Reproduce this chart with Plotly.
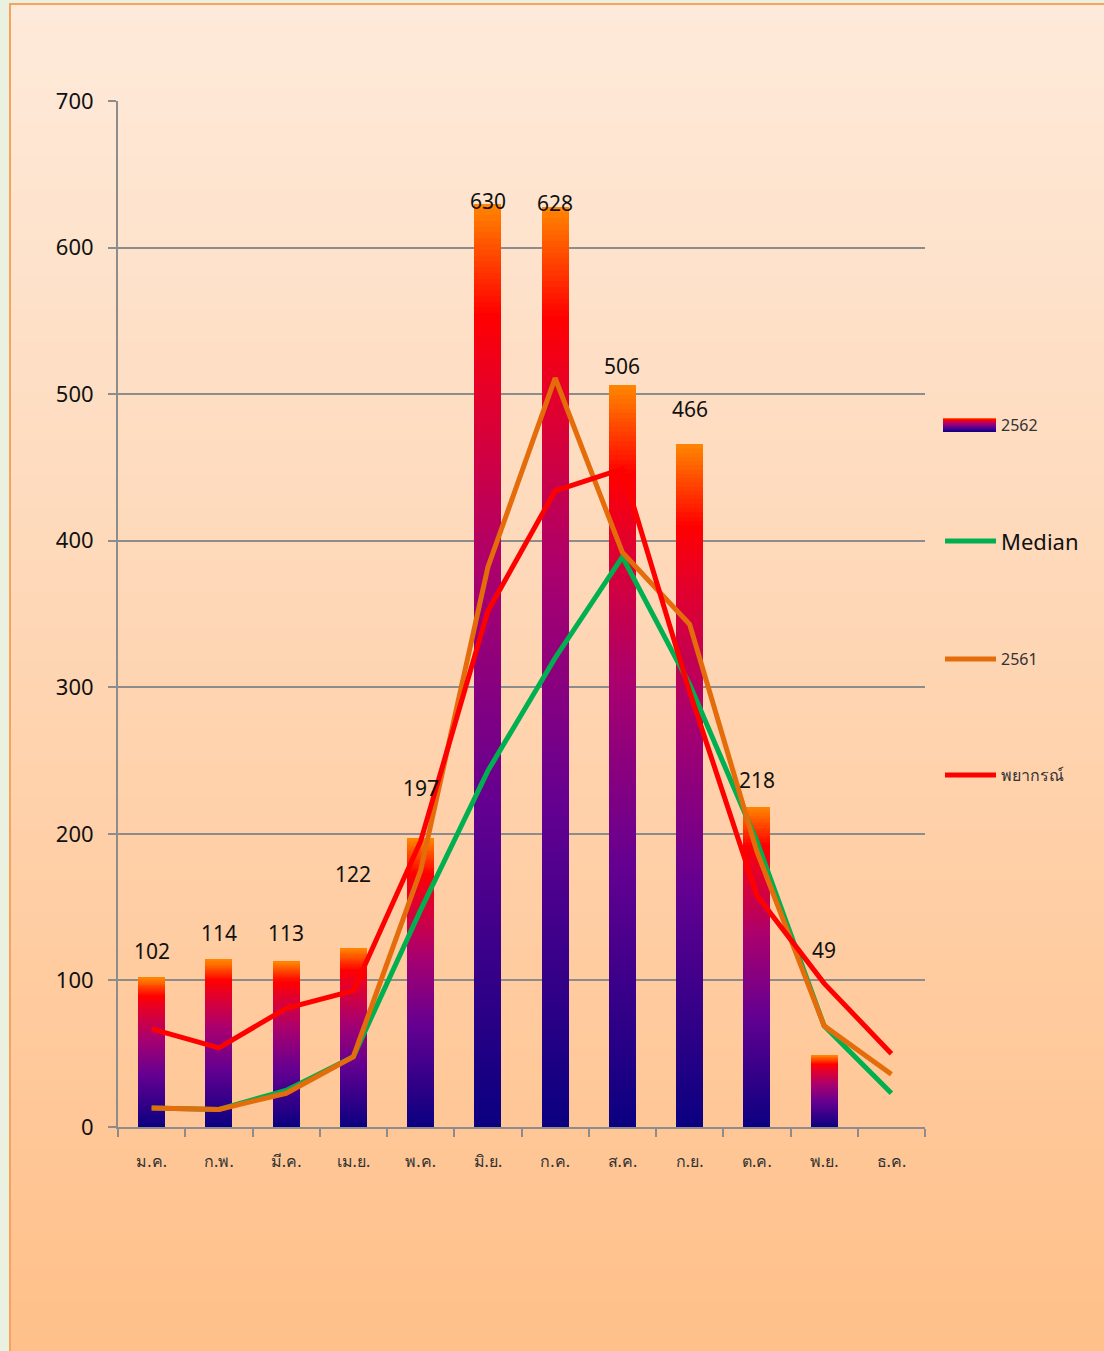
import plotly.graph_objects as go

# monthly counts
months = ["ม.ค.", "ก.พ.", "มี.ค.", "เม.ย.", "พ.ค.", "มิ.ย.", "ก.ค.", "ส.ค.", "ก.ย.", "ต.ค.", "พ.ย.", "ธ.ค."]
cases_2562 = [102, 114, 113, 122, 197, 630, 628, 506, 466, 218, 49, None]
median = [13, 12, 25, 48, 148, 243, 320, 389, 302, 195, 69, 23]
cases_2561 = [13, 12, 23, 48, 175, 382, 511, 392, 343, 188, 69, 36]
forecast = [67, 54, 81, 93, 195, 352, 434, 449, 297, 158, 98, 50]

# value labels were nudged by hand in the original (px above bar top)
label_lift = [27, 27, 28, 74, 50, 3, 4, 19, 35, 27, 105]

W, H = 1104, 1351
L, R, T, B = 118, 925, 101, 1127   # plot area in px


def px_x(p):
    return (p - L) / (R - L)


def px_y(p):
    return (B - p) / (B - T)


bar_stops = [(0.0, (10, 0, 128)), (0.35, (100, 0, 145)), (0.6, (170, 0, 110)),
             (0.8, (230, 0, 40)), (0.88, (255, 0, 0)), (1.0, (255, 135, 0))]


def grad(f, stops=bar_stops):
    for (f0, c0), (f1, c1) in zip(stops, stops[1:]):
        if f <= f1:
            t = (f - f0) / (f1 - f0)
            return "rgb(%d,%d,%d)" % tuple(round(a + (b - a) * t) for a, b in zip(c0, c1))
    return "rgb(%d,%d,%d)" % stops[-1][1]


fig = go.Figure()

# gradient bars: stack thin slices of each value
N = 160
for i in range(N):
    fig.add_trace(go.Bar(
        x=months, y=[v / N if v else None for v in cases_2562],
        marker=dict(color=grad((i + 0.5) / N), line=dict(width=0)),
        showlegend=False, hoverinfo="skip"))

series = [("Median", median, "#00b050", 541, 22, "#111"),
          ("2561", cases_2561, "#e46c0a", 659, 16, "#333"),
          ("พยากรณ์", forecast, "#ff0000", 775, 16, "#333")]
for name, vals, col, *_ in series:
    fig.add_trace(go.Scatter(x=months, y=vals, mode="lines", name=name,
                             line=dict(color=col, width=5), showlegend=False))

for m, v, lift in zip(months, cases_2562, label_lift):
    fig.add_annotation(x=m, y=v, yshift=lift, text=str(v), showarrow=False,
                       yanchor="middle", font=dict(size=21, color="#111"))

# background: vertical peach gradient + orange frame line
shapes = []
top_c, bot_c = (254, 234, 218), (255, 192, 138)
nb = 80
y0p, y1p = 4, H
for k in range(nb):
    a = y0p + (y1p - y0p) * k / nb
    b = y0p + (y1p - y0p) * (k + 1) / nb + 1
    t = k / (nb - 1)
    col = "rgb(%d,%d,%d)" % tuple(round(c0 + (c1 - c0) * t) for c0, c1 in zip(top_c, bot_c))
    shapes.append(dict(type="rect", xref="paper", yref="paper", layer="below",
                       x0=px_x(10), x1=px_x(W), y0=px_y(b), y1=px_y(a),
                       fillcolor=col, line=dict(width=0)))
shapes.append(dict(type="path", xref="paper", yref="paper", layer="below",
                   path="M %f,%f L %f,%f L %f,%f" % (px_x(10), px_y(H), px_x(10), px_y(4),
                                                     px_x(W), px_y(4)),
                   line=dict(color="#f7a35c", width=2)))

# legend: gradient swatch for the bars, line samples for the series
sw_top, sw_bot = 418, 432
for k in range(sw_bot - sw_top):
    shapes.append(dict(type="rect", xref="paper", yref="paper",
                       x0=px_x(943), x1=px_x(996), y0=px_y(sw_top + k + 1), y1=px_y(sw_top + k),
                       fillcolor=grad(1 - (k + 0.5) / (sw_bot - sw_top)), line=dict(width=0)))
fig.add_annotation(xref="paper", yref="paper", x=px_x(999), y=px_y(425), text="2562",
                   showarrow=False, xanchor="left", yanchor="middle",
                   font=dict(size=16, color="#333"))
for name, vals, col, ypx, fs, fc in series:
    shapes.append(dict(type="line", xref="paper", yref="paper",
                       x0=px_x(945), x1=px_x(996), y0=px_y(ypx), y1=px_y(ypx),
                       line=dict(color=col, width=5)))
    fig.add_annotation(xref="paper", yref="paper", x=px_x(999), y=px_y(ypx), text=name,
                       showarrow=False, xanchor="left", yanchor="middle",
                       font=dict(size=fs, color=fc))

fig.update_layout(
    width=W, height=H,
    margin=dict(l=L, r=W - R, t=T, b=H - B),
    paper_bgcolor="#eaf1e0", plot_bgcolor="rgba(0,0,0,0)",
    font=dict(family="Noto Sans", color="#111"),
    barmode="stack", bargap=0.6, showlegend=False,
    shapes=shapes,
    xaxis=dict(showline=True, linecolor="#8c8c8c", linewidth=2, ticks="outside",
               tickson="boundaries", ticklen=8, tickwidth=2, tickcolor="#8c8c8c",
               showgrid=False, tickfont=dict(size=16, color="#333"), ticklabelstandoff=19),
    yaxis=dict(range=[0, 700], dtick=100, showgrid=True, gridcolor="#8c8c8c", gridwidth=1.5,
               showline=True, linecolor="#8c8c8c", linewidth=2, ticks="outside", ticklen=8,
               tickwidth=2, tickcolor="#8c8c8c", zeroline=False,
               tickfont=dict(size=22, color="#111"), ticklabelstandoff=10),
)

fig.write_html("out.html", config={"displayModeBar": False},
               post_script="document.body.style.margin='0';document.body.style.overflow='hidden';")
